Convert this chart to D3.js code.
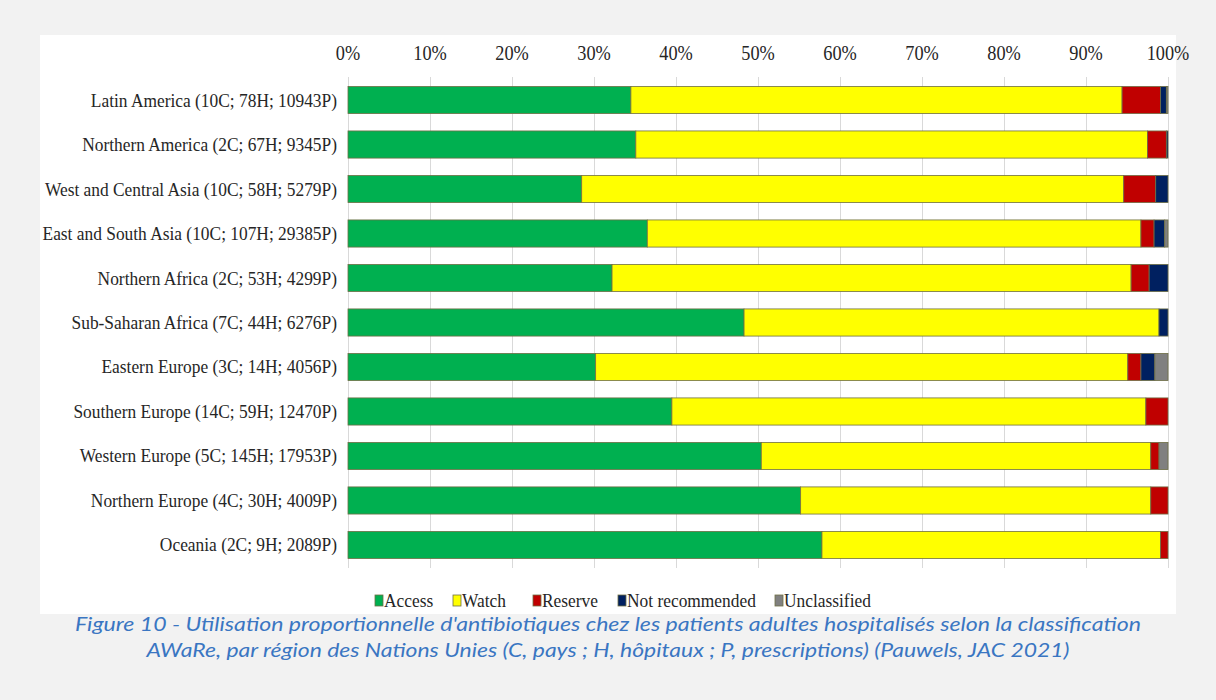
<!DOCTYPE html>
<html><head><meta charset="utf-8">
<script src="https://cdn.jsdelivr.net/npm/d3@7"></script>
<style>
html,body{margin:0;padding:0;background:#f2f2f2;}
svg{display:block;}
</style></head>
<body>
<svg id="chart" width="1216" height="700"></svg>
<script>
const regions = [
  "Latin America (10C; 78H; 10943P)",
  "Northern America (2C; 67H; 9345P)",
  "West and Central Asia (10C; 58H; 5279P)",
  "East and South Asia (10C; 107H; 29385P)",
  "Northern Africa (2C; 53H; 4299P)",
  "Sub-Saharan Africa (7C; 44H; 6276P)",
  "Eastern Europe (3C; 14H; 4056P)",
  "Southern Europe (14C; 59H; 12470P)",
  "Western Europe (5C; 145H; 17953P)",
  "Northern Europe (4C; 30H; 4009P)",
  "Oceania (2C; 9H; 2089P)"
];
const seriesNames = ["Access","Watch","Reserve","Not recommended","Unclassified"];
const access         = [34.5, 35.1, 28.5, 36.5, 32.2, 48.3, 30.2, 39.5, 50.4, 55.2, 57.8];
const watch          = [59.9, 62.4, 66.1, 60.2, 63.3, 50.6, 64.9, 57.8, 47.5, 42.7, 41.3];
const reserve        = [ 4.7,  2.3,  3.9,  1.6,  2.2,  0.0,  1.6,  2.7,  1.0,  2.1,  0.9];
const notRecommended = [ 0.7,  0.2,  1.5,  1.3,  2.3,  1.1,  1.7,  0.0,  0.0,  0.0,  0.0];
const unclassified   = [ 0.2,  0.0,  0.0,  0.4,  0.0,  0.0,  1.6,  0.0,  1.1,  0.0,  0.0];
const tickLabels = ["0%","10%","20%","30%","40%","50%","60%","70%","80%","90%","100%"];
const captionLines = [
  "Figure 10 - Utilisation proportionnelle d'antibiotiques chez les patients adultes hospitalisés selon la classification",
  "AWaRe, par région des Nations Unies (C, pays ; H, hôpitaux ; P, prescriptions) (Pauwels, JAC 2021)"
];

const colors = ["#00b050","#ffff00","#c00000","#002060","#808080"];
const seriesVals = [access, watch, reserve, notRecommended, unclassified];

const table = regions.map((r,i)=>{
  const o = {region:r};
  seriesNames.forEach((s,k)=>o[s]=seriesVals[k][i]);
  return o;
});

const serif = "'Liberation Serif', 'Times New Roman', serif";
const sx = 0.915;

const svg = d3.select("#chart");
svg.append("rect").attr("x",0).attr("y",0).attr("width",1216).attr("height",700).attr("fill","#f2f2f2");
svg.append("rect").attr("x",40).attr("y",35).attr("width",1136).attr("height",579).attr("fill","#ffffff");

const x = d3.scaleLinear().domain([0,100]).range([348,1168]);
const y = d3.scaleBand().domain(regions).range([78,567]).paddingInner(0.39).paddingOuter(0.19);

// gridlines
svg.append("g").selectAll("line").data(d3.range(0,101,10)).join("line")
  .attr("x1",d=>x(d)+0.5).attr("x2",d=>x(d)+0.5)
  .attr("y1",77).attr("y2",568)
  .attr("stroke","#d9d9d9").attr("stroke-width",1);

// tick labels
svg.append("g").selectAll("text").data(tickLabels).join("text")
  .attr("transform",(d,i)=>`translate(${x(i*10)},60) scale(${sx},1)`)
  .attr("text-anchor","middle")
  .attr("font-family",serif).attr("font-size",20).attr("fill","#262626")
  .text(d=>d);

// category labels
svg.append("g").selectAll("text").data(regions).join("text")
  .attr("transform",d=>`translate(337,${y(d)+y.bandwidth()/2+6.5}) scale(${sx},1)`)
  .attr("text-anchor","end")
  .attr("font-family",serif).attr("font-size",19).attr("fill","#262626")
  .text(d=>d);

const stack = d3.stack().keys(seriesNames)(table);
svg.append("g").selectAll("g").data(stack).join("g")
  .attr("fill",(d,i)=>colors[i])
  .selectAll("rect").data(d=>d.filter(v=>v[1]-v[0]>0)).join("rect")
  .attr("x",d=>x(d[0])).attr("width",d=>x(d[1])-x(d[0]))
  .attr("y",d=>y(d.data.region)).attr("height",y.bandwidth())
  .attr("stroke","#6f6f45").attr("stroke-width",0.8);

// legend
const legX = [375, 453, 533, 618, 775];
const leg = svg.append("g").selectAll("g").data(seriesNames).join("g")
  .attr("transform",(d,i)=>`translate(${legX[i]},607)`);
leg.append("rect").attr("x",0).attr("y",-12).attr("width",8).attr("height",11)
  .attr("fill",(d,i)=>colors[i]).attr("stroke","#6f6f45").attr("stroke-width",0.8);
leg.append("text").attr("transform",`translate(9,0) scale(${sx},1)`)
  .attr("font-family",serif).attr("font-size",19).attr("fill","#262626")
  .text(d=>d);

// caption
const capLen = [1066, 923];
svg.append("g").selectAll("text").data(captionLines).join("text")
  .attr("x",608).attr("y",(d,i)=>631+i*26)
  .attr("text-anchor","middle")
  .attr("textLength",(d,i)=>capLen[i]).attr("lengthAdjust","spacingAndGlyphs")
  .attr("font-family","Lato, 'Open Sans', sans-serif").attr("font-style","italic")
  .attr("font-size",19).attr("fill","#3a76c2")
  .text(d=>d);
</script>
</body></html>
